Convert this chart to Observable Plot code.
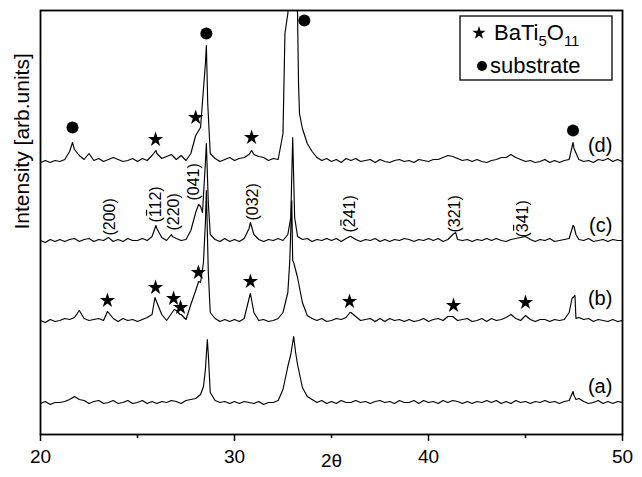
<!DOCTYPE html>
<html><head><meta charset="utf-8">
<script src="https://cdn.jsdelivr.net/npm/d3@7"></script>
<script src="https://cdn.jsdelivr.net/npm/@observablehq/plot@0.6"></script>
<style>
body{margin:0;background:#fff;}
#wrap{position:relative;width:642px;height:477px;font-family:"Liberation Sans",Arial,sans-serif;}
#legend{position:absolute;left:459px;top:15px;}
</style></head><body><div id="wrap"></div>
<script>
// 2θ grid for the intensity arrays
const thetaStart = 20, thetaStep = 0.25;
// vertical offsets of the stacked patterns
const seriesNames = ["(a)", "(b)", "(c)", "(d)"];
const seriesOffsets = [30, 112, 192, 271];
const seriesLabelY = [48, 136, 209, 289];

const gridA = [1,3,0,2, 2,3,5,8, 5,4,1,3, 4,1,2,4, 1,2,4,1, 2,4,1,3, 1,3,2,4, 3,1,4,5, 6,10,35,12, 4,2,3,1,
  3,1,3,2, 1,3,0,2, 2,4,15,38, 62,40,17,8, 5,2,4,1, 3,1,4,2, 2,4,2,3, 1,3,4,2, 3,1,4,2, 2,4,1,4,
  2,3,1,4, 2,4,3,1, 3,1,3,2, 4,2,4,1, 3,1,4,2, 3,1,3,2, 4,2,3,1, 3,4,9,6, 3,1,2,4, 1,3,1,3, 2];
const peaksA = [[28.4,18],[28.6,65],[28.65,50],[32.9,50],[33.05,68],[33.15,52],[47.45,13],[47.6,5]];

const gridB = [2,0,3,1, 2,4,3,5, 12,4,2,3, 4,2,10,4, 1,4,2,3, 1,3,5,8, 20,8,2,9, 12,8,3,18, 32,40,100,10, 4,1,3,1,
  3,1,4,24, 10,2,3,1, 2,4,10,30, 62,45,20,7, 4,2,4,1, 2,4,3,5, 10,6,2,3, 4,1,4,1, 4,2,3,1, 3,1,2,4,
  1,3,4,2, 6,6,2,3, 4,1,2,4, 1,4,2,3, 5,8,4,2, 7,3,1,3, 3,1,3,2, 3,10,26,5, 3,4,1,3, 2,1,3,1, 2];
const peaksB = [[23.45,11],[25.9,25],[26.9,13],[27.2,8],[28.15,41],[28.4,60],[28.55,132],[28.65,50],[30.82,29],
  [32.85,62],[32.95,122],[33.05,60],[35.95,10],[47.4,24],[47.55,27],[47.6,4]];

const gridC = [2,0,3,1, 3,1,3,4, 1,3,4,1, 3,2,5,1, 3,1,4,2, 2,4,2,6, 14,5,2,8, 4,2,3,12, 30,36,80,8, 3,1,4,1,
  3,1,4,14, 8,3,1,3, 2,4,2,8, 105,6,3,4, 1,3,2,4, 2,4,1,4, 6,3,1,3, 2,4,1,3, 1,3,2,4, 3,1,3,2,
  4,2,4,1, 3,8,3,2, 3,1,3,2, 4,2,4,2, 1,3,4,5, 6,3,1,3, 2,4,1,2, 3,4,16,3, 2,4,1,2, 3,1,3,2, 2];
const peaksC = [[25.95,17],[26.8,6],[28.15,38],[28.35,30],[28.55,99],[28.65,40],[30.82,20],[32.9,25],[33.1,25],
  [35.95,6],[41.4,10],[47.45,17],[47.6,8]];

const gridD = [1,3,1,3, 2,4,12,14, 8,4,10,3, 5,2,4,6, 4,2,3,5, 2,5,3,8, 10,5,7,9, 4,8,3,10, 28,36,100,10, 5,2,4,6,
  3,5,6,9, 9,7,6,3, 5,4,30,150, 200,150,35,20, 12,6,3,5, 2,4,1,5, 3,5,2,3, 4,1,4,2, 1,3,4,2, 3,1,4,3,
  2,4,4,6, 8,7,5,3, 4,2,4,2, 1,3,4,6, 6,9,6,4, 2,3,1,2, 4,1,3,1, 3,4,15,4, 2,3,1,4, 3,5,2,4, 2];
const peaksD = [[21.65,21],[25.95,13],[28.55,118],[28.62,60],[30.88,13],[32.6,130],[32.9,190],[33.3,80],[33.35,50],[47.45,21]];

// phase markers [2θ, height]
const substrateMarks = [[21.65,307],[28.55,401],[33.6,414],[47.45,304]];
const phaseMarks = [[25.93,295],[28.0,317],[30.88,297],
  [23.45,134],[25.93,147],[26.86,136],[27.22,127],[28.14,162],[30.82,153],[35.93,133],[41.29,129],[45.0,132]];

// Miller index labels [2θ, base height, text, index of digit with overbar (-1 = none)]
const hklLabels = [[23.58,199,"(200)",-1],[25.93,212,"(112)",0],[26.88,204,"(220)",-1],[27.89,234,"(041)",-1],
  [30.95,214,"(032)",-1],[35.95,202,"(241)",0],[41.37,202,"(321)",-1],[44.85,197,"(341)",0]];

const xMajor = [20, 30, 40, 50];
const xMinor = [25, 35, 45];

function build(name, offset, grid, peaks) {
  const pts = grid.map((v, i) => ({theta: thetaStart + i * thetaStep, v}));
  peaks.forEach(([t, v]) => pts.push({theta: t, v}));
  pts.sort((p, q) => p.theta - q.theta);
  return pts.map(p => ({series: name, theta: p.theta, y: offset + p.v}));
}
const grids = [[gridA, peaksA], [gridB, peaksB], [gridC, peaksC], [gridD, peaksD]];
const data = grids.flatMap(([g, p], i) => build(seriesNames[i], seriesOffsets[i], g, p));
const labels = seriesNames.map((n, i) => ({text: n, y: seriesLabelY[i]}));

// overbars along the rotated label, over the barred digit (1 y-unit = 1 px)
const hklFont = 16;
const bars = hklLabels.filter(d => d[3] >= 0).map(d => {
  const s = d[1] + hklFont * (0.333 + 0.556 * d[3]);
  return {theta: d[0], y1: s + 1.5, y2: s + hklFont * 0.556 - 1.5};
});

const font = "Liberation Sans, Arial, Helvetica, sans-serif";
const chart = Plot.plot({
  width: 642, height: 477,
  marginLeft: 40, marginRight: 20, marginTop: 10, marginBottom: 43,
  style: {fontFamily: font, fontSize: "19px", color: "#000", background: "#fff"},
  x: {domain: [20, 50]},
  y: {domain: [0, 424], axis: null},
  marks: [
    Plot.line(data, {x: "theta", y: "y", z: "series", stroke: "#000", strokeWidth: 1.15, clip: true}),
    Plot.frame({stroke: "#000", strokeWidth: 1.8}),
    Plot.axisX({ticks: xMajor, tickSize: 7, tickPadding: 8, fontSize: 19, label: null, strokeWidth: 1.5}),
    Plot.axisX({ticks: xMinor, tickSize: 4, tickFormat: () => "", label: null, strokeWidth: 1.5}),
    Plot.dot(substrateMarks, {x: d => d[0], y: d => d[1], r: 6, fill: "#000", stroke: null}),
    Plot.dot(phaseMarks, {x: d => d[0], y: d => d[1], r: 4.8, symbol: "star", fill: "#000", stroke: null}),
    Plot.text(labels, {x: 49.48, y: "y", text: "text", textAnchor: "end", fontSize: 20}),
    Plot.text(hklLabels, {x: d => d[0], y: d => d[1], text: d => d[2], rotate: -90, textAnchor: "start", fontSize: hklFont}),
    Plot.link(bars, {x1: "theta", x2: "theta", y1: "y1", y2: "y2", dx: -9, stroke: "#000", strokeWidth: 1.2}),
    Plot.text(["2θ"], {frameAnchor: "bottom", dy: 32, fontSize: 19}),
    Plot.text(["Intensity [arb.units]"], {frameAnchor: "left", rotate: -90, dx: -18, dy: 7, fontSize: 21})
  ]
});
const wrap = document.getElementById("wrap");
wrap.appendChild(chart);

// legend inside the plot area
const starPath = d3.symbol(d3.symbolStar, 7 * 7 / 0.8908130915292852)();
const leg = d3.select(wrap).append("svg").attr("id", "legend").attr("width", 155).attr("height", 67)
  .style("font-family", font);
leg.append("rect").attr("x", 1).attr("y", 1).attr("width", 152).attr("height", 64)
  .attr("fill", "#fff").attr("stroke", "#000").attr("stroke-width", 1.3);
leg.append("path").attr("d", starPath).attr("transform", "translate(20,18)").attr("fill", "#000");
const t1 = leg.append("text").attr("x", 35).attr("y", 25).attr("font-size", 22);
t1.append("tspan").text("BaTi");
t1.append("tspan").attr("font-size", 15).attr("dy", 6).text("5");
t1.append("tspan").attr("dy", -6).text("O");
t1.append("tspan").attr("font-size", 15).attr("dy", 6).text("11");
leg.append("circle").attr("cx", 23).attr("cy", 51).attr("r", 5).attr("fill", "#000");
leg.append("text").attr("x", 31).attr("y", 58).attr("font-size", 22).text("substrate");
</script>
</body></html>
